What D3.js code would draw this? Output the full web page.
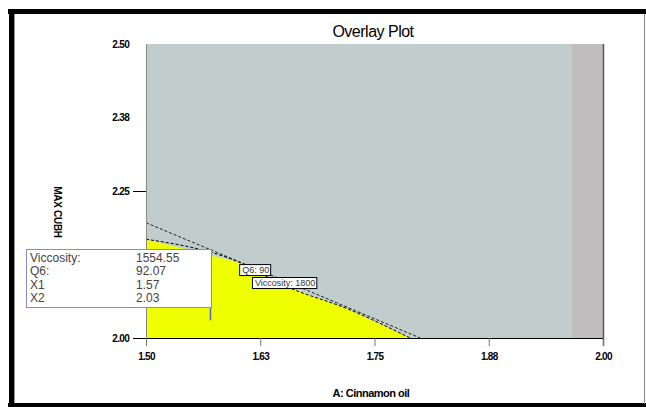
<!DOCTYPE html>
<html><head><meta charset="utf-8">
<script src="https://cdn.jsdelivr.net/npm/d3@7"></script>
<style>
html,body{margin:0;padding:0;background:#fff;}
svg{display:block;}
</style></head>
<body>
<svg id="chart" width="646" height="407"></svg>
<script>
// ---- data ----
const xTickValues = [1.5, 1.625, 1.75, 1.875, 2.0];
const xTickLabels = ["1.50", "1.63", "1.75", "1.88", "2.00"];
const yTickValues = [2.0, 2.125, 2.25, 2.375, 2.5];
const yTickLabels = ["2.00", "2.13", "2.25", "2.38", "2.50"];
const greyStripStart = 1.966;
// Viscosity = 1800 contour (x, y)
const viscX = [1.5, 1.603, 1.650, 1.723, 1.789];
const viscY = [2.168, 2.128, 2.090, 2.048, 2.0];
// Q6 = 90 contour
const q6X = [1.5, 1.6, 1.8];
const q6Y = [2.196, 2.131, 2.0];
const flagLabels = ["Q6: 90", "Viccosity: 1800"];
const flagX = [1.603, 1.617];
const flagY = [2.124, 2.102];
const tipNames = ["Viccosity:", "Q6:", "X1", "X2"];
const tipValues = ["1554.55", "92.07", "1.57", "2.03"];
const tipPoint = [1.57, 2.03];

const svg = d3.select("#chart");
const x = d3.scaleLinear().domain([1.5, 2.0]).range([146, 603]);
const y = d3.scaleLinear().domain([2.0, 2.5]).range([338, 44]);
const narrow = "'Liberation Sans Narrow','Liberation Sans',Arial,sans-serif";

// frame
svg.append("rect").attr("x", 8).attr("y", 9).attr("width", 638).attr("height", 5).attr("fill", "#000");
svg.append("rect").attr("x", 9).attr("y", 9).attr("width", 5).attr("height", 398).attr("fill", "#000");
svg.append("line").attr("x1", 14.5).attr("x2", 14.5).attr("y1", 14).attr("y2", 404).attr("stroke", "#999");
svg.append("rect").attr("x", 8).attr("y", 403).attr("width", 638).attr("height", 4).attr("fill", "#000");
svg.append("line").attr("x1", 644.5).attr("x2", 644.5).attr("y1", 14).attr("y2", 404).attr("stroke", "#888");

// plot backgrounds
svg.append("rect").attr("x", x(1.5)).attr("y", y(2.5)).attr("width", x(2.0) - x(1.5)).attr("height", y(2.0) - y(2.5)).attr("fill", "#c1cdcd");
svg.append("rect").attr("x", x(greyStripStart)).attr("y", y(2.5)).attr("width", x(2.0) - x(greyStripStart)).attr("height", y(2.0) - y(2.5)).attr("fill", "#c0bdbf");

// yellow region under viscosity contour
const viscPts = viscX.map((v, i) => [v, viscY[i]]);
const areaPts = viscPts.concat([[1.5, 2.0]]);
svg.append("path")
  .attr("d", d3.line().x(d => x(d[0])).y(d => y(d[1]))(areaPts) + "Z")
  .attr("fill", "#f0ff00");

// contours
const lineGen = d3.line().x(d => x(d[0])).y(d => y(d[1])).curve(d3.curveMonotoneX);
svg.append("path").attr("d", lineGen(viscPts)).attr("fill", "none").attr("stroke", "#000").attr("stroke-width", 1).attr("stroke-dasharray", "3,2");
const q6Pts = q6X.map((v, i) => [v, q6Y[i]]);
svg.append("path").attr("d", lineGen(q6Pts)).attr("fill", "none").attr("stroke", "#222").attr("stroke-width", 1).attr("stroke-dasharray", "3,2");

// axes lines
svg.append("line").attr("x1", x(1.5) + 0.5).attr("x2", x(1.5) + 0.5).attr("y1", y(2.5)).attr("y2", y(2.0) + 8).attr("stroke", "#888");
svg.append("line").attr("x1", x(2.0) + 0.5).attr("x2", x(2.0) + 0.5).attr("y1", y(2.5)).attr("y2", y(2.0) + 8).attr("stroke", "#555").attr("stroke-width", 1.5);

// x axis
const xAxis = d3.axisBottom(x).tickValues(xTickValues).tickSize(8).tickFormat((d, i) => xTickLabels[i]);
const gx = svg.append("g").attr("transform", `translate(0,${y(2.0)})`).call(xAxis);
gx.select(".domain").attr("d", `M${x(1.5) - 13},0.5H${x(2.0)}`).attr("stroke", "#000");
gx.selectAll(".tick line").attr("stroke", "#777");
gx.selectAll(".tick text").attr("dy", "1.1em").attr("font-family", narrow)
  .attr("font-weight", "bold").attr("font-size", 10).attr("letter-spacing", "-0.7").attr("fill", "#000");

// y axis
const yAxis = d3.axisLeft(y).tickValues(yTickValues).tickSize(13).tickPadding(4).tickFormat((d, i) => yTickLabels[i]);
const gy = svg.append("g").attr("transform", `translate(${x(1.5)},0)`).call(yAxis);
gy.select(".domain").remove();
gy.selectAll(".tick line").attr("stroke", (d) => d > 2.3 ? "none" : "#000");
gy.selectAll(".tick text").attr("font-family", narrow)
  .attr("font-weight", "bold").attr("font-size", 10).attr("letter-spacing", "-0.7").attr("fill", "#000");

// title & axis titles
svg.append("text").attr("x", 373).attr("y", 37).attr("text-anchor", "middle")
  .attr("font-family", "'Liberation Sans',Arial,sans-serif").attr("font-size", 16).attr("letter-spacing", "-0.5").text("Overlay Plot");
svg.append("text").attr("x", 371).attr("y", 397).attr("text-anchor", "middle")
  .attr("font-family", narrow).attr("font-weight", "bold")
  .attr("font-size", 11).attr("letter-spacing", "-0.5").text("A: Cinnamon oil");
svg.append("text").attr("transform", "translate(54,212) rotate(90)").attr("text-anchor", "middle")
  .attr("font-family", narrow).attr("font-weight", "bold")
  .attr("font-size", 10).attr("letter-spacing", "-0.3").text("MAX CUBH");

// contour flags
flagLabels.forEach((t, i) => {
  const g = svg.append("g").attr("transform", `translate(${x(flagX[i])},${y(flagY[i])})`);
  const txt = g.append("text").attr("x", 2).attr("y", 8).attr("font-family", narrow)
    .attr("font-size", 9).attr("fill", "#333").text(t);
  const w = txt.node().getComputedTextLength();
  g.insert("rect", "text").attr("x", -0.5).attr("y", -0.5).attr("width", w + 4).attr("height", 11).attr("fill", "#fff").attr("stroke", "#000");
});

// tooltip crosshair
svg.append("line").attr("x1", x(tipPoint[0]) + 0.5).attr("x2", x(tipPoint[0]) + 0.5).attr("y1", 300).attr("y2", y(tipPoint[1]))
  .attr("stroke", "#5566cc").attr("stroke-width", 1.5);
// tooltip box
const tip = svg.append("g");
tip.append("rect").attr("x", 26.5).attr("y", 249.5).attr("width", 185).attr("height", 58).attr("fill", "#fff").attr("stroke", "#8888cc");
tipNames.forEach((n, i) => {
  tip.append("text").attr("x", 30).attr("y", 262 + i * 13.3).attr("font-family", "'Liberation Sans',Arial,sans-serif")
    .attr("font-size", 12).attr("fill", "#4a4040").text(n);
  tip.append("text").attr("x", 136).attr("y", 262 + i * 13.3).attr("font-family", "'Liberation Sans',Arial,sans-serif")
    .attr("font-size", 12).attr("fill", "#4a4040").text(tipValues[i]);
});
</script>
</body></html>
